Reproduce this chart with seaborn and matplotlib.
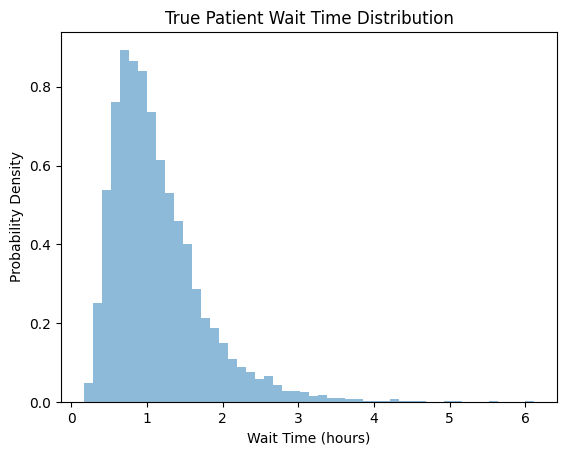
import seaborn as sns
import matplotlib.pyplot as plt
import pandas as pd
import numpy as np

# histogram: 50 equal bins between these limits
wait_min = 0.163
wait_max = 6.12
bin_counts = [29, 150, 321, 454, 534, 517, 502, 440, 367, 317,
              274, 239, 171, 127, 112, 90, 65, 53, 45, 35,
              40, 26, 17, 17, 15, 9, 10, 6, 6, 4,
              4, 1, 1, 1, 4, 1, 1, 1, 0, 0,
              1, 1, 0, 0, 0, 1, 0, 0, 0, 1]

edges = np.linspace(wait_min, wait_max, len(bin_counts) + 1)
df = pd.DataFrame({"wait": (edges[:-1] + edges[1:]) / 2, "count": bin_counts})

fig = plt.figure(figsize=(5.67, 4.55), dpi=100)
ax = fig.add_axes([61 / 567, 53 / 455, 496 / 567, 370 / 455])
sns.histplot(data=df, x="wait", weights="count", bins=len(bin_counts),
             binrange=(wait_min, wait_max), stat="density",
             color="#1f77b4", alpha=0.5, edgecolor="none", linewidth=0, ax=ax)
ax.set_title("True Patient Wait Time Distribution")
ax.set_xlabel("Wait Time (hours)")
ax.set_ylabel("Probability Density")
plt.savefig("out.png", dpi=100)
plt.close()
